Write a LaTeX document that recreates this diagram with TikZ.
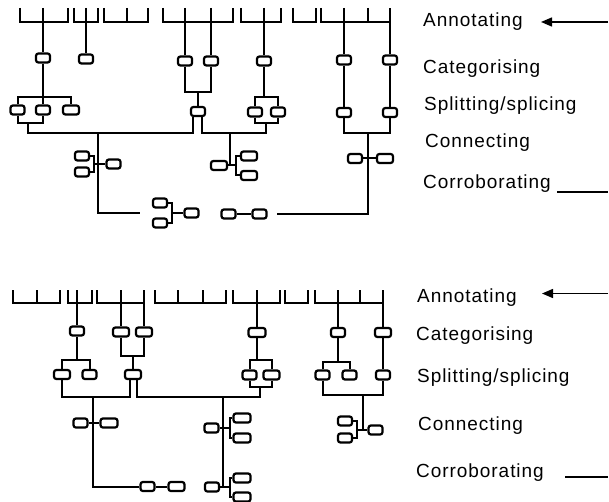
\documentclass[tikz,border=0pt]{standalone}
\usepackage{fontspec}
\setmainfont{Liberation Sans}[LetterSpace=5]
\usetikzlibrary{arrows.meta}
\begin{document}
\begin{tikzpicture}[x=1pt,y=-1pt,
  bx/.style={draw,line width=2.2pt,rounded corners=2.4pt,minimum width=14pt,minimum height=9pt,inner sep=0pt},
  ln/.style={line width=2pt},
  brk/.style={line width=1.9pt},
  lbl/.style={anchor=base west,inner sep=0pt,font=\fontsize{19}{22}\selectfont},
  arr/.style={line width=1.4pt,-{Triangle[length=11pt,width=9pt]}},
  tln/.style={line width=1.4pt}]
\useasboundingbox (0,0) rectangle (609,502);

% ================= TOP DIAGRAM =================
% annotation brackets
\draw[brk] (20,8)--(20,22)--(68,22)--(68,8) (43,8)--(43,22);
\draw[brk] (74,8)--(74,22)--(98,22)--(98,8) (86,8)--(86,22);
\draw[brk] (104,8)--(104,22)--(148,22)--(148,8) (127,8)--(127,22);
\draw[brk] (163,8)--(163,22)--(233,22)--(233,8) (185,8)--(185,22) (211,8)--(211,22);
\draw[brk] (241,8)--(241,22)--(281,22)--(281,8) (264,8)--(264,22);
\draw[brk] (293,8)--(293,22)--(316,22)--(316,8);
\draw[brk] (321,8)--(321,22)--(390,22)--(390,8) (344,8)--(344,22) (368,8)--(368,22);

\coordinate (a1) at (43,22);
\coordinate (a2) at (86,22);
\coordinate (a3) at (185,22);
\coordinate (a4) at (211,22);
\coordinate (a5) at (264,22);
\coordinate (a6) at (344,22);
\coordinate (a7) at (390,22);

% categorising
\node[bx] (tc1) at (43,58) {};
\node[bx] (tc2) at (86,59) {};
\node[bx] (tc3) at (185,61) {};
\node[bx] (tc4) at (211,61) {};
\node[bx] (tc5) at (264,61) {};
\node[bx] (tc6) at (344,60) {};
\node[bx] (tc7) at (390,60) {};
\draw[ln] (a1)--(tc1);
\draw[ln] (a2)--(tc2);
\draw[ln] (a3)--(tc3);
\draw[ln] (a4)--(tc4);
\draw[ln] (a5)--(tc5);
\draw[ln] (a6)--(tc6);
\draw[ln] (a7)--(tc7);

% splitting / splicing
\node[bx] (ts1) at (17.5,110) {};
\node[bx] (ts2) at (43,110) {};
\node[bx,minimum width=16pt] (ts3) at (71,110) {};
\coordinate (j1) at (43,97);
\coordinate (k1) at (28,123);
\draw[ln] (tc1)--(ts2);
\draw[ln] (ts1) |- (j1) -| (ts3);
\draw[ln] (ts1) |- (k1) -| (ts2);

\node[bx] (tm) at (198,111.5) {};
\coordinate (jm) at (198,92);
\draw[ln] (tc3) |- (jm) -| (tc4);
\draw[ln] (jm)--(tm);

\node[bx] (ts5a) at (255,112) {};
\node[bx] (ts5b) at (278,112) {};
\coordinate (j5) at (264,97);
\coordinate (k5) at (266,123);
\draw[ln] (tc5)--(j5);
\draw[ln] (ts5a) |- (j5) -| (ts5b);
\draw[ln] (ts5a) |- (k5) -| (ts5b);

\node[bx] (ts6) at (344,112.5) {};
\node[bx] (ts7) at (390,112.5) {};
\coordinate (h3) at (368,133);
\draw[ln] (tc6)--(ts6);
\draw[ln] (tc7)--(ts7);
\draw[ln] (ts6) |- (h3) -| (ts7);

% joining lines
\coordinate (h1L) at (28,133);
\coordinate (h1R) at (193,133);
\coordinate (h2L) at (202,133);
\coordinate (h2R) at (266,133);
\draw[ln] (k1)--(h1L)--(h1R)--(tm.south -| h1R);
\draw[ln] (tm.south -| h2L)--(h2L)--(h2R)--(k5);

\coordinate (v1) at (98,133);
\coordinate (v1b) at (98,213);
\coordinate (v1e) at (140,213);
\draw[ln] (v1)--(v1b)--(v1e);

\coordinate (v2) at (230,133);
\coordinate (jB) at (230,165.5);
\draw[ln] (v2)--(jB);

\coordinate (v3b) at (368,214);
\coordinate (v3e) at (277,214);
\draw[ln] (h3)--(v3b)--(v3e);

% connecting
\node[bx] (ca1) at (82,156) {};
\node[bx] (ca2) at (82,172) {};
\node[bx] (ca3) at (113.5,164) {};
\coordinate (bA) at (94,164);
\draw[ln] (ca1.east) -| (bA) |- (ca2.east);
\draw[ln] (bA)--(ca3);

\node[bx,minimum width=16pt] (cb1) at (219,165.5) {};
\node[bx,minimum width=16pt] (cb2) at (249,156) {};
\node[bx,minimum width=16pt] (cb3) at (249,175.5) {};
\coordinate (bB) at (236,165.5);
\draw[ln] (cb1)--(bB);
\draw[ln] (cb2.west) -| (bB) |- (cb3.west);

\node[bx] (cc1) at (355,158.5) {};
\node[bx,minimum width=16pt] (cc2) at (385,158.5) {};
\draw[ln] (cc1)--(cc2);

% corroborating
\node[bx] (cd1) at (160,203) {};
\node[bx] (cd2) at (160,223) {};
\node[bx] (cd3) at (191.5,213) {};
\coordinate (bD) at (172,213);
\draw[ln] (cd1.east) -| (bD) |- (cd2.east);
\draw[ln] (bD)--(cd3);

\node[bx] (ce1) at (228.5,214) {};
\node[bx] (ce2) at (259.5,214) {};
\draw[ln] (ce1)--(ce2);

% labels
\node[lbl] (lt1) at (423,26.5) {Annotating};
\node[lbl] (lt2) at (423,74) {Categorising};
\node[lbl] (lt3) at (424,111) {Splitting/splicing};
\node[lbl] (lt4) at (425,148) {Connecting};
\node[lbl] (lt5) at (423,189) {Corroborating};
\coordinate (ta0) at (608,22);
\coordinate (ta1) at (541,22);
\draw[arr] (ta0)--(ta1);
\coordinate (tl0) at (557,192);
\coordinate (tl1) at (608,192);
\draw[tln] (tl0)--(tl1);

% ================= BOTTOM DIAGRAM =================
\draw[brk] (13,290)--(13,303)--(60,303)--(60,290) (37,290)--(37,303);
\draw[brk] (68,290)--(68,303)--(92,303)--(92,290) (77,290)--(77,303);
\draw[brk] (97,290)--(97,303)--(144,303)--(144,290) (121,290)--(121,303);
\draw[brk] (155,290)--(155,303)--(226,303)--(226,290) (178,290)--(178,303) (203,290)--(203,303);
\draw[brk] (233,290)--(233,303)--(280,303)--(280,290) (257,290)--(257,303);
\draw[brk] (285,290)--(285,303)--(308,303)--(308,290);
\draw[brk] (315,290)--(315,303)--(383,303)--(383,290) (338,290)--(338,303) (360,290)--(360,303);

\coordinate (b2) at (77,303);
\coordinate (b3a) at (121,303);
\coordinate (b3b) at (144,303);
\coordinate (b5) at (257,303);
\coordinate (b7a) at (338,303);
\coordinate (b7b) at (383,303);

% categorising
\node[bx] (bc1) at (77,331) {};
\node[bx,minimum width=16pt] (bc2) at (121,332) {};
\node[bx,minimum width=16pt] (bc3) at (144,332) {};
\node[bx,minimum width=17pt] (bc4) at (257,332.5) {};
\node[bx] (bc5) at (338,332.5) {};
\node[bx,minimum width=16pt] (bc6) at (383,332.5) {};
\draw[ln] (b2)--(bc1);
\draw[ln] (b3a)--(bc2);
\draw[ln] (b3b)--(bc3);
\draw[ln] (b5)--(bc4);
\draw[ln] (b7a)--(bc5);
\draw[ln] (b7b)--(bc6);

% splitting / splicing
\node[bx,minimum width=16pt] (bs1) at (62,374.5) {};
\node[bx] (bs2) at (89.5,374.5) {};
\coordinate (jb1) at (77,360);
\draw[ln] (bc1)--(jb1);
\draw[ln] (bs1) |- (jb1) -| (bs2);

\node[bx,minimum width=16pt] (bs3) at (133,374.5) {};
\coordinate (jb2) at (133,356);
\draw[ln] (bc2) |- (jb2) -| (bc3);
\draw[ln] (jb2)--(bs3);

\node[bx] (bs4) at (249.5,375) {};
\node[bx,minimum width=16pt] (bs5) at (271.5,375) {};
\coordinate (jb3) at (257,360);
\draw[ln] (bc4)--(jb3);
\draw[ln] (bs4) |- (jb3) -| (bs5);

\node[bx] (bs6) at (322.5,375) {};
\node[bx] (bs7) at (349.5,375) {};
\coordinate (jb4) at (338,362);
\draw[ln] (bc5)--(jb4);
\draw[ln] (bs6) |- (jb4) -| (bs7);

\node[bx] (bs8) at (383,375) {};
\draw[ln] (bc6)--(bs8);

% joining lines
\coordinate (hb1R) at (130,397);
\draw[ln] (bs1) |- (hb1R)--(bs3.south -| hb1R);
\coordinate (hb2L) at (137,397);
\coordinate (hb2R) at (260,397);
\coordinate (kb) at (260,387);
\draw[ln] (bs3.south -| hb2L)--(hb2L)--(hb2R)--(kb);
\draw[ln] (bs4) |- (kb) -| (bs5);
\coordinate (hb3) at (363,395);
\coordinate (vb3b) at (363,430);
\draw[ln] (bs6) |- (hb3) -| (bs8);
\draw[ln] (hb3)--(vb3b);

% connecting
\node[bx] (n1) at (80.5,423) {};
\node[bx,minimum width=17pt] (n2) at (109,423) {};
\draw[ln] (n1)--(n2);

\node[bx] (m1) at (211.5,428) {};
\node[bx,minimum width=17pt] (m2) at (242,418) {};
\node[bx,minimum width=17pt] (m3) at (242,438) {};
\coordinate (bm) at (230,428);
\draw[ln] (m1)--(bm);
\draw[ln] (m2.west) -| (bm) |- (m3.west);

\node[bx] (r1) at (345,421) {};
\node[bx] (r2) at (345,438) {};
\node[bx] (r3) at (375.5,430) {};
\coordinate (br) at (357,430);
\draw[ln] (r1.east) -| (br) |- (r2.east);
\draw[ln] (br)--(r3);

% corroborating
\node[bx] (p1) at (147.5,486.5) {};
\node[bx,minimum width=16pt] (p2) at (176.5,486.5) {};
\draw[ln] (p1)--(p2);

\node[bx] (q1) at (212,487) {};
\node[bx,minimum width=17pt] (q2) at (242,478) {};
\node[bx,minimum width=17pt] (q3) at (242,497) {};
\coordinate (bq) at (230,487);
\draw[ln] (q1)--(bq);
\draw[ln] (q2.west) -| (bq) |- (q3.west);

\coordinate (vb1) at (93,397);
\coordinate (vb1b) at (93,486.5);
\draw[ln] (vb1)--(vb1b)--(p1);
\coordinate (vb2) at (223,397);
\coordinate (vb2b) at (223,487);
\draw[ln] (vb2)--(vb2b);

% labels
\node[lbl] (lb1) at (417,302) {Annotating};
\node[lbl] (lb2) at (416,340.5) {Categorising};
\node[lbl] (lb3) at (417,382.5) {Splitting/splicing};
\node[lbl] (lb4) at (418,430) {Connecting};
\node[lbl] (lb5) at (416,477) {Corroborating};
\coordinate (ba0) at (608,293.5);
\coordinate (ba1) at (542,293.5);
\draw[arr] (ba0)--(ba1);
\coordinate (bl0) at (565,477);
\coordinate (bl1) at (608,477);
\draw[tln] (bl0)--(bl1);
\end{tikzpicture}
\end{document}
